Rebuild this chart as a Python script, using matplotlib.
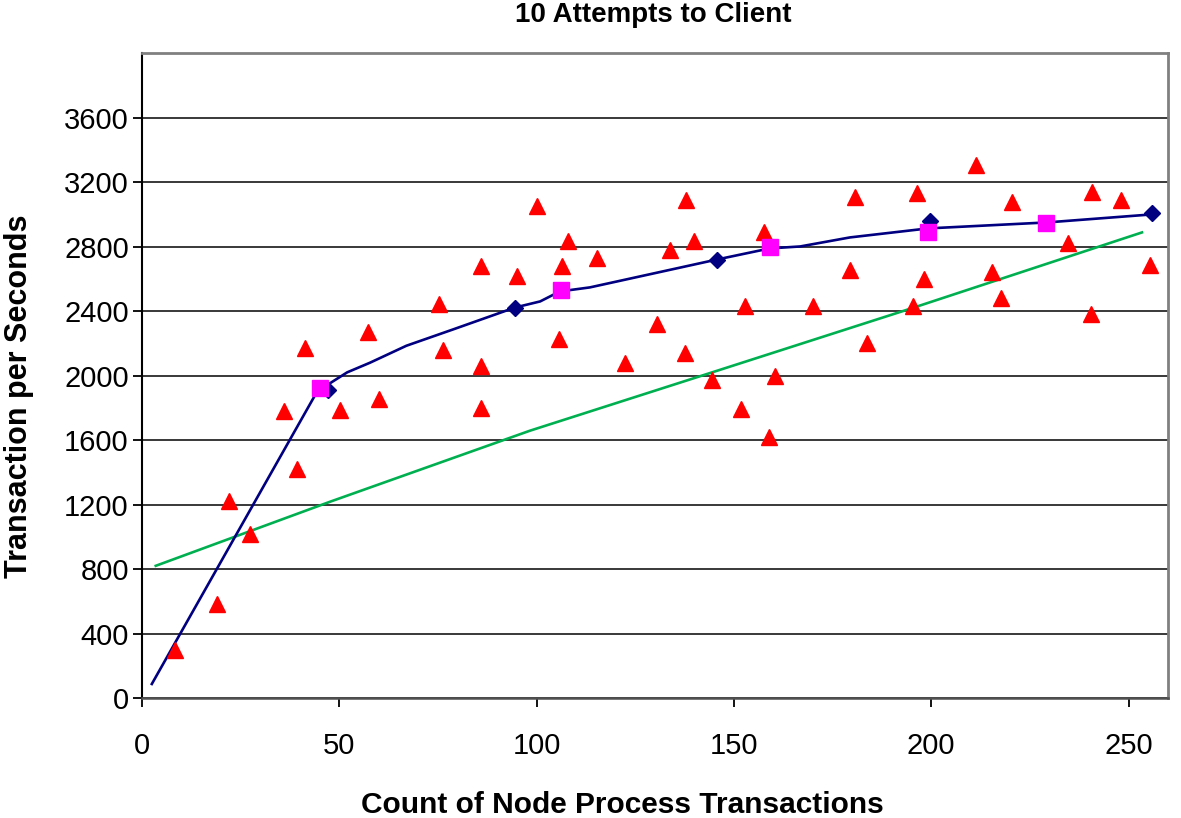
import matplotlib
matplotlib.use("Agg")
import matplotlib.pyplot as plt

plt.rcParams['font.family'] = ['Liberation Sans', 'DejaVu Sans']

# scatter of individual runs (red triangles)
run_x = [8.4, 19.0, 22.0, 27.4, 36.0, 39.3, 41.3, 50.2, 57.3, 60.0,
         75.3, 76.3, 85.9, 85.9, 85.9, 95.0, 100.0, 105.7, 106.4, 108.0,
         115.3, 122.4, 130.5, 133.8, 137.9, 137.6, 139.9, 144.4, 151.8, 152.8,
         157.6, 158.9, 160.4, 170.0, 179.4, 180.7, 183.7, 195.4, 196.4, 198.2,
         211.4, 215.4, 217.7, 220.5, 234.7, 240.5, 240.7, 248.1, 255.4]
run_y = [298, 584, 1224, 1019, 1783, 1422, 2174, 1789, 2273, 1857,
         2441, 2161, 2677, 2062, 1801, 2615, 3050, 2230, 2677, 2832,
         2727, 2081, 2317, 2776, 3087, 2143, 2832, 1975, 1795, 2429,
         2888, 1621, 2000, 2429, 2658, 3106, 2205, 2429, 3130, 2602,
         3304, 2640, 2484, 3075, 2820, 2385, 3137, 3087, 2683]

# smoothed average curve (navy)
curve_x = [2.5, 45.1, 47.1, 52.0, 57.8, 67.0, 78.8, 94.5, 100.9, 105.9, 113.5, 120.4,
           145.7, 159.1, 166.8, 179.4, 199.2, 229.3, 256.0]
curve_y = [87, 1932, 1944, 2020, 2080, 2185, 2286, 2422, 2460, 2522, 2547, 2584,
           2720, 2789, 2801, 2857, 2913, 2950, 3000]

# diamond markers on the curve
diam_x = [47.1, 94.5, 145.7, 199.7, 256.0]
diam_y = [1913, 2422, 2720, 2957, 3006]

# magenta squares
sq_x = [45.1, 106.2, 159.1, 199.2, 229.1]
sq_y = [1925, 2528, 2795, 2888, 2944]

# trend line (green)
trend_x = [3.5, 47.6, 98.3, 143.2, 195.6, 253.4]
trend_y = [820, 1217, 1658, 2010, 2422, 2888]

fig = plt.figure(figsize=(11.81, 8.18), dpi=100)
ax = fig.add_axes([0.1202, 0.1467, 0.8688, 0.7883])

ax.set_xlim(0, 260)
ax.set_ylim(0, 4000)
ax.set_xticks(range(0, 251, 50))
ax.set_yticks(range(0, 3601, 400))
ax.grid(axis='y', color='#383838', linewidth=1.4, zorder=0)
ax.set_axisbelow(True)

ax.plot(trend_x, trend_y, color='#00B050', linewidth=1.9, zorder=2)
ax.plot(curve_x, curve_y, color='#000080', linewidth=1.9, zorder=3)
ax.plot(diam_x, diam_y, 'D', color='#000080', markersize=8, linestyle='none', zorder=4)
ax.plot(run_x, run_y, '^', color='#FF0000', markersize=11, linestyle='none', zorder=5)
ax.plot(sq_x, sq_y, 's', color='#FF00FF', markersize=11, linestyle='none', zorder=6)

for side in ['top', 'right']:
    ax.spines[side].set_color('#808080')
    ax.spines[side].set_linewidth(2)
ax.spines['left'].set_color('black')
ax.spines['left'].set_linewidth(1.5)
ax.spines['bottom'].set_color('#505050')
ax.spines['bottom'].set_linewidth(1.8)

ax.tick_params(axis='y', length=6.5, width=1.3, pad=3, labelsize=21, colors='black')
ax.tick_params(axis='x', length=6.5, width=1.3, pad=18, labelsize=21, colors='black')

fig.text(0.553, 0.9817, '10 Attempts to Client', ha='center', va='center',
         fontsize=20, fontweight='bold')
fig.text(0.527, 0.0155, 'Count of Node Process Transactions', ha='center', va='center',
         fontsize=21.5, fontweight='bold')
fig.text(0.016, 0.515, 'Transaction per Seconds', ha='center', va='center',
         rotation=90, fontsize=22, fontweight='bold')

fig.savefig('out.png', dpi=100)
